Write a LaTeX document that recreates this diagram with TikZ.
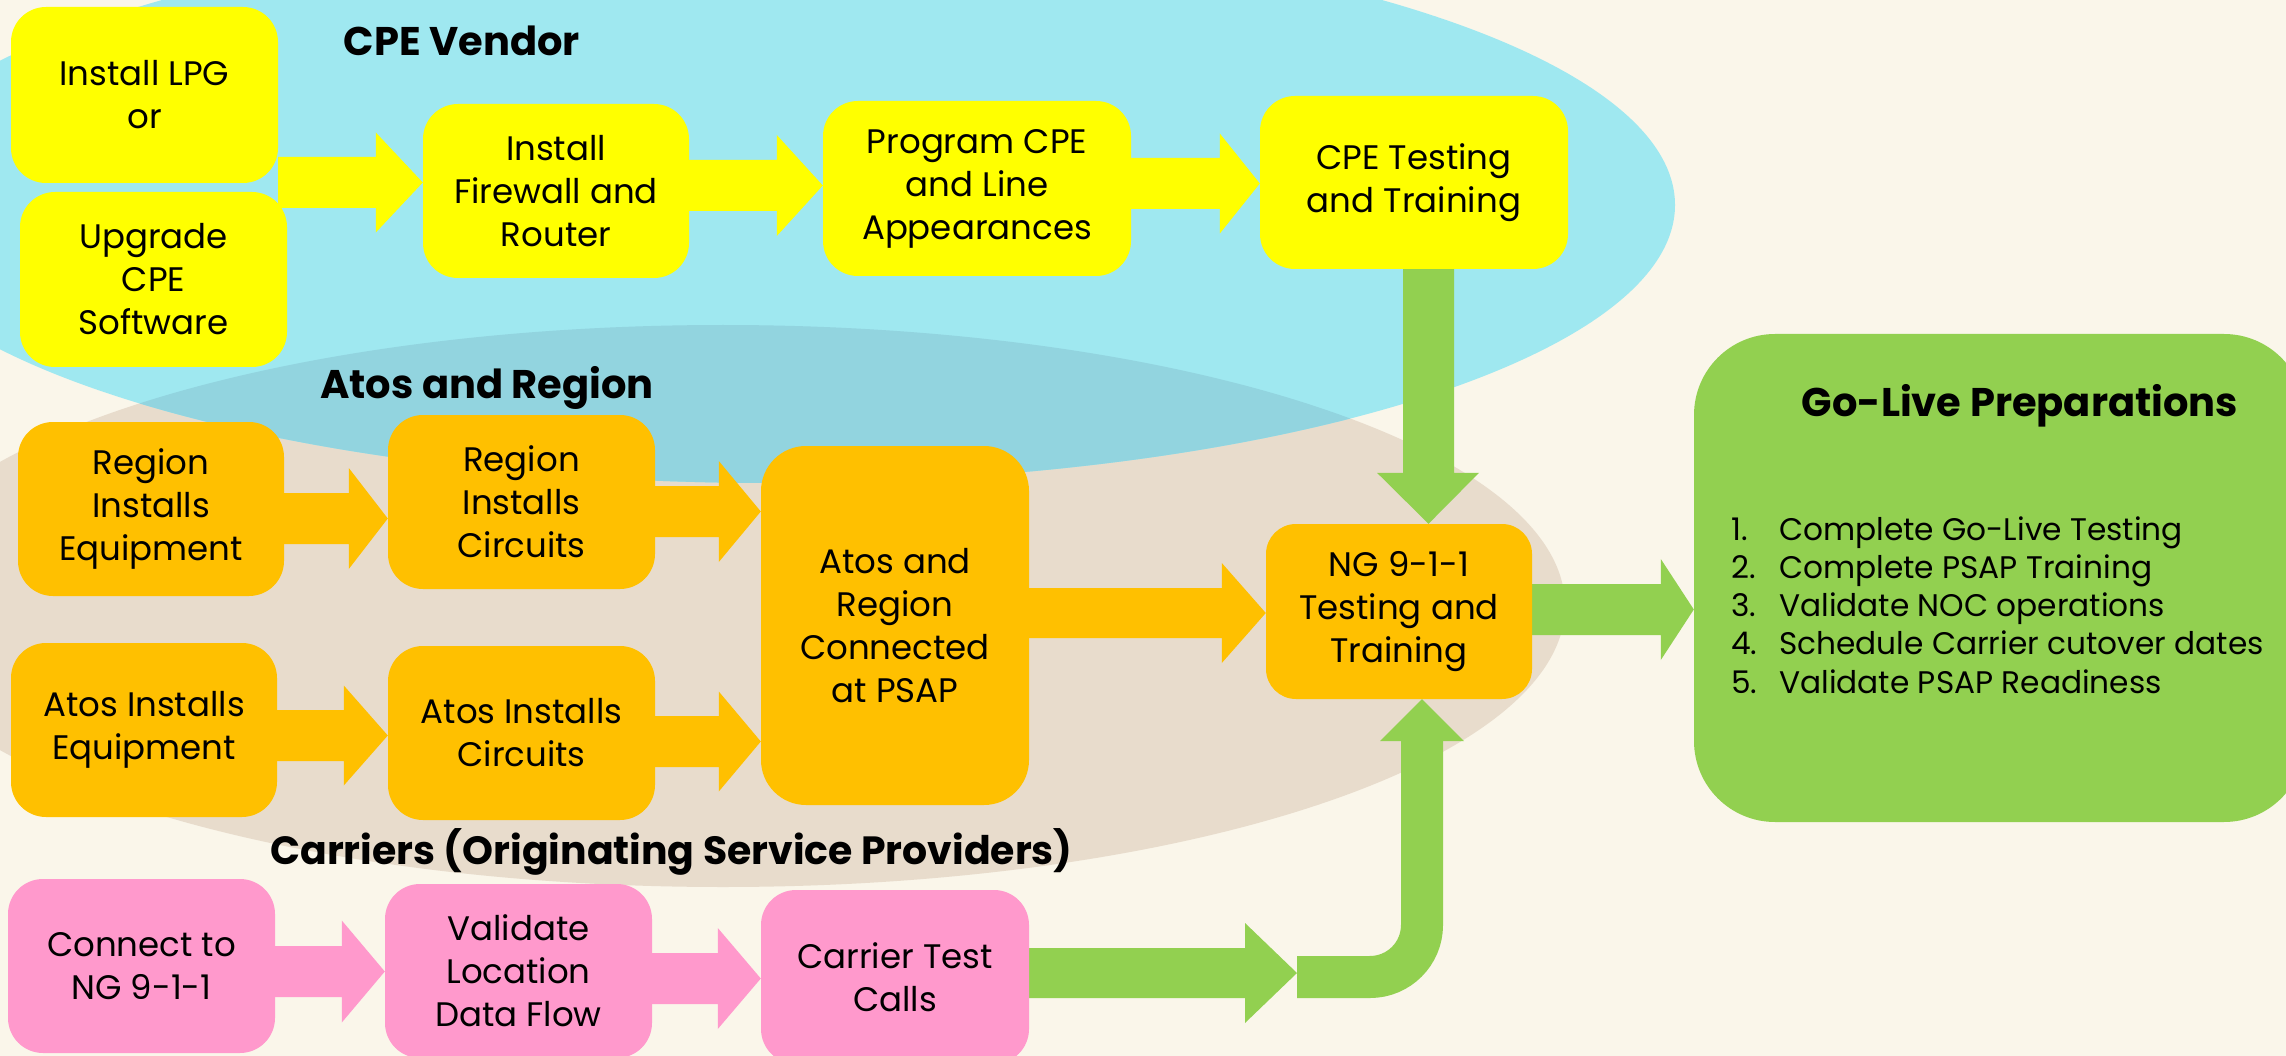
\documentclass[tikz,border=0pt]{standalone}
\usepackage{fontspec}
\setmainfont{Poppins}
\usetikzlibrary{calc}
\definecolor{bg}{HTML}{FAF6EA}
\definecolor{cblue}{HTML}{9FE8F0}
\definecolor{coverlap}{HTML}{92D4DF}
\definecolor{cbrown}{HTML}{E8DCCC}
\definecolor{cyel}{HTML}{FFFF00}
\definecolor{corange}{HTML}{FFC000}
\definecolor{cpink}{HTML}{FF99CC}
\definecolor{cgreen}{HTML}{92D050}
\newcommand\boxfont{\fontsize{34}{43}\selectfont}
\newcommand\titlefont{\fontsize{40}{48}\selectfont\bfseries}
\newcommand\listfont{\fontsize{31.2}{38.3}\selectfont}
\pgfdeclarelayer{regions}
\pgfdeclarelayer{arrows}
\pgfsetlayers{regions,arrows,main}
% horizontal block arrow: style, from, to, y, shaft half, head half, head length
\newcommand\harr[7]{%
\fill[#1] let \p1=(#2), \p2=(#3) in
 (\x1,#4pt+#5pt) -- (\x2-#7pt,#4pt+#5pt) -- (\x2-#7pt,#4pt+#6pt) -- (\x2,#4pt)
 -- (\x2-#7pt,#4pt-#6pt) -- (\x2-#7pt,#4pt-#5pt) -- (\x1,#4pt-#5pt) -- cycle;}
\begin{document}
\begin{tikzpicture}[x=1pt,y=1pt,
  box/.style={rounded corners=35pt, inner sep=0pt, align=center, font=\boxfont, text=black},
  ybox/.style={box, fill=cyel},
  obox/.style={box, fill=corange},
  pbox/.style={box, fill=cpink},
  title/.style={anchor=base, inner sep=0pt, font=\titlefont},
  yarr/.style={cyel},
  oarr/.style={corange},
  parr/.style={cpink},
  garr/.style={cgreen}]
\useasboundingbox (0,0) rectangle (2286,-1056);
\begin{pgfonlayer}{regions}
\fill[bg] (0,0) rectangle (2286,-1056);
\fill[cbrown] (723,-606) ellipse [x radius=842, y radius=281];
\fill[cblue] (772,-205) ellipse [x radius=903, y radius=278];
\begin{scope}
\clip (723,-606) ellipse [x radius=842, y radius=281];
\fill[coverlap] (772,-205) ellipse [x radius=903, y radius=278];
\end{scope}
\end{pgfonlayer}
% boxes
\path
 (144.5,-95)   node[ybox, minimum width=267, minimum height=176] (lpg) {Install LPG\\or}
 (153.5,-279.5) node[ybox, minimum width=267, minimum height=175] (upg) {Upgrade\\CPE\\Software}
 (556,-191)    node[ybox, minimum width=266, minimum height=174] (fw) {Install\\Firewall and\\Router}
 (977,-188.5)  node[ybox, minimum width=308, minimum height=175] (prog) {Program CPE\\and Line\\Appearances}
 (1414,-182.5) node[ybox, minimum width=308, minimum height=173] (cpet) {CPE Testing\\and Training}
 (151,-509)    node[obox, minimum width=266, minimum height=174] (regeq) {Region\\Installs\\Equipment}
 (521.5,-502)  node[obox, minimum width=267, minimum height=174] (regc) {Region\\Installs\\Circuits}
 (895,-625.5)  node[obox, minimum width=268, minimum height=359, rounded corners=45pt] (atosc) {Atos and\\Region\\Connected\\at PSAP}
 (144,-730)    node[obox, minimum width=266, minimum height=174] (atoseq) {Atos Installs\\Equipment}
 (521.5,-733)  node[obox, minimum width=267, minimum height=174] (atoscirc) {Atos Installs\\Circuits}
 (1399,-611.5) node[obox, minimum width=266, minimum height=175, rounded corners=30pt] (ng) {NG 9-1-1\\Testing and\\Training}
 (141.5,-966)  node[pbox, minimum width=267, minimum height=174] (conn) {Connect to\\NG 9-1-1}
 (518.5,-971)  node[pbox, minimum width=267, minimum height=174] (valid) {Validate\\Location\\Data Flow}
 (895,-977)    node[pbox, minimum width=268, minimum height=174] (ctest) {Carrier Test\\Calls}
 (1999.5,-578) node[box, fill=cgreen, minimum width=611, minimum height=488, rounded corners=81pt] (golive) {};
% titles
\node[title] (tcpe) at (462,-56) {CPE Vendor};
\node[title] (tatos) at (487,-399) {Atos and Region};
\node[title, font=\fontsize{39.4}{48}\selectfont\bfseries] (tcar) at (671.5,-864) {Carriers (Originating Service Providers)};
\node[title] (tgo) at (2020,-416) {Go-Live Preparations};
\node[anchor=base west, inner sep=0pt, font=\listfont] (list) at (1731,-540)
 {\begin{tabular}[t]{@{}p{48pt}@{}l@{}}
 1. & Complete Go-Live Testing\\
 2. & Complete PSAP Training\\
 3. & Validate NOC operations\\
 4. & Schedule Carrier cutover dates\\
 5. & Validate PSAP Readiness
 \end{tabular}};
\coordinate (bend) at (1297,-977);
% arrows
\begin{pgfonlayer}{arrows}
\harr{yarr}{lpg.east}{fw.west}{-182.5}{25.5}{50}{47}
\harr{yarr}{fw.east}{prog.west}{-185.5}{25.5}{50.5}{46}
\harr{yarr}{prog.east}{cpet.west}{-183.5}{25.5}{50}{40}
\harr{oarr}{regeq.east}{regc.west}{-518.5}{25.5}{50.5}{39}
\harr{oarr}{regc.east}{atosc.west}{-511.5}{25.5}{50.5}{42}
\harr{oarr}{atoseq.east}{atoscirc.west}{-735.5}{25.5}{50}{44}
\harr{oarr}{atoscirc.east}{atosc.west}{-741.5}{25.5}{50}{42}
\harr{oarr}{atosc.east}{ng.west}{-613}{25}{50}{44}
\harr{garr}{ng.east}{golive.west}{-609.5}{25.5}{50.5}{33}
\harr{parr}{conn.east}{valid.west}{-971.5}{25.5}{51}{43}
\harr{parr}{valid.east}{ctest.west}{-978.5}{25.5}{50.5}{43}
\harr{garr}{ctest.east}{bend}{-973}{25}{50}{52}
% CPE testing down to NG
\fill[garr] let \p1=(cpet.south), \p2=(ng.north) in
 (1403,\y1) -- (1403pt,\y2+51pt) -- (1377pt,\y2+51pt) -- (1428.5pt,\y2)
 -- (1479pt,\y2+51pt) -- (1454pt,\y2+51pt) -- (1454,\y1) -- cycle;
% carrier bent arrow up to NG
\draw[cgreen, line width=42pt, rounded corners=52pt] let \p1=(ng.south) in
 (bend) -- (1422,-977) -- (1422pt,\y1-42pt);
\fill[garr] let \p1=(ng.south) in
 (1380pt,\y1-42pt) -- (1422pt,\y1) -- (1464pt,\y1-42pt) -- cycle;
\end{pgfonlayer}
\end{tikzpicture}
\end{document}
